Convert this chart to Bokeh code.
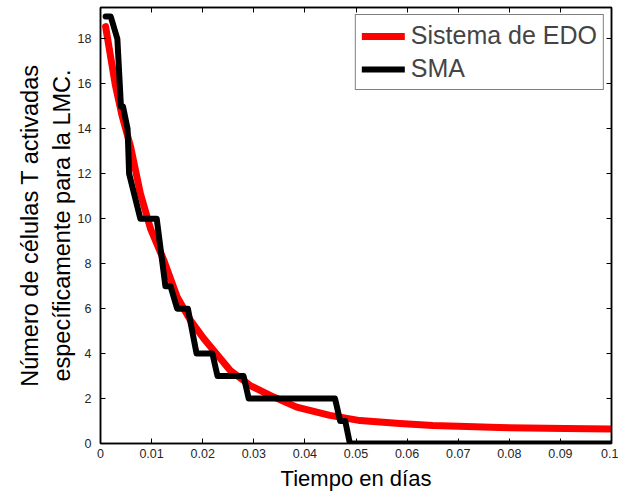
from bokeh.plotting import figure
from bokeh.models import LinearAxis, Range1d, FixedTicker, CustomJSTickFormatter, Legend, LegendItem
from bokeh.embed import file_html
from bokeh.resources import INLINE

# ODE system (red curve)
t_edo = [0.001, 0.0029, 0.0042, 0.0059, 0.0078, 0.0098, 0.0124, 0.015, 0.0176,
         0.0202, 0.0254, 0.0293, 0.0332, 0.0384, 0.0449, 0.0508, 0.0586, 0.065,
         0.0717, 0.078, 0.091, 0.1]
y_edo = [18.55, 15.95, 14.6, 13.2, 11.13, 9.55, 8.15, 6.52, 5.48,
         4.67, 3.25, 2.58, 2.14, 1.62, 1.25, 1.02, 0.89, 0.8,
         0.76, 0.71, 0.67, 0.65]

# Agent-based model (black curve)
t_sma = [0.001, 0.002, 0.0033, 0.0040, 0.0044, 0.0053, 0.0056, 0.0078, 0.011,
         0.0127, 0.0137, 0.015, 0.0171, 0.0188, 0.0219, 0.0229, 0.028, 0.029,
         0.0459, 0.0469, 0.0479, 0.0488, 0.1]
y_sma = [19, 19, 18, 15, 15, 14, 12, 10, 10,
         7, 7, 6, 6, 4, 4, 3, 3, 2,
         2, 1, 1, 0, 0]

x_ticks = [0, 0.01, 0.02, 0.03, 0.04, 0.05, 0.06, 0.07, 0.08, 0.09, 0.1]
y_ticks = [0, 2, 4, 6, 8, 10, 12, 14, 16, 18]

FONT = "Liberation Sans"

p = figure(width=618, height=497, output_backend="svg", toolbar_location=None,
           x_range=Range1d(0, 0.1), y_range=Range1d(0, 19.4),
           min_border_left=100, min_border_right=7, min_border_top=7,
           min_border_bottom=54)
p.grid.visible = False
p.background_fill_color = "white"
p.border_fill_color = "white"
p.outline_line_color = "black"
p.outline_line_width = 1.5

r1 = p.line(t_edo, y_edo, line_color="#ff0000", line_width=7, line_join="round", line_cap="round")
r2 = p.line(t_sma, y_sma, line_color="black", line_width=6, line_join="round", line_cap="round")

fmt = CustomJSTickFormatter(code="return (Math.round(tick*100)/100).toString();")

for ax in p.xaxis:
    ax.ticker = FixedTicker(ticks=x_ticks)
    ax.formatter = fmt
    ax.axis_label = "Tiempo en días"
    ax.axis_label_text_font_size = "22px"
for ax in p.yaxis:
    ax.ticker = FixedTicker(ticks=y_ticks)
    ax.axis_label = "Número de células T activadas\nespecíficamente para la LMC."

for ax in list(p.xaxis) + list(p.yaxis):
    ax.major_tick_in = 5
    ax.major_tick_out = 0
    ax.minor_tick_line_color = None
    ax.axis_line_color = "black"
    ax.axis_line_width = 1.5
    ax.major_tick_line_color = "black"
    ax.major_label_text_font = FONT
    ax.major_label_text_font_size = "12.5px"
    ax.major_label_text_color = "#262626"
    ax.axis_label_text_font = FONT
    ax.axis_label_text_font_style = "normal"
    ax.axis_label_text_color = "black"

p.xaxis.axis_label_text_font_size = "22px"
p.yaxis.axis_label_text_font_size = "23.5px"
p.xaxis.major_label_standoff = 5
p.xaxis.axis_label_standoff = 5
p.yaxis.major_label_standoff = 9
p.yaxis.axis_label_standoff = 0

top = LinearAxis(ticker=FixedTicker(ticks=x_ticks), major_label_text_font_size="1px",
                 major_label_text_color=None,
                 major_tick_in=5, major_tick_out=0, minor_tick_line_color=None,
                 major_label_standoff=0, axis_line_width=1.5)
right = LinearAxis(ticker=FixedTicker(ticks=y_ticks), major_label_text_font_size="1px",
                   major_label_text_color=None,
                   major_tick_in=5, major_tick_out=0, minor_tick_line_color=None,
                   major_label_standoff=0, axis_line_width=1.5)
p.add_layout(top, "above")
p.add_layout(right, "right")

legend = Legend(items=[LegendItem(label="Sistema de EDO", renderers=[r1]),
                       LegendItem(label="SMA", renderers=[r2])],
                location="top_right")
legend.label_text_font = FONT
legend.label_text_font_size = "25px"
legend.glyph_width = 43
legend.glyph_height = 28
legend.label_height = 28
legend.label_standoff = 6
legend.spacing = 4
legend.padding = 6
legend.margin = 7
legend.border_line_color = "black"
legend.border_line_width = 1
legend.background_fill_alpha = 1
p.add_layout(legend)

open("out.html", "w").write(file_html(p, INLINE))
